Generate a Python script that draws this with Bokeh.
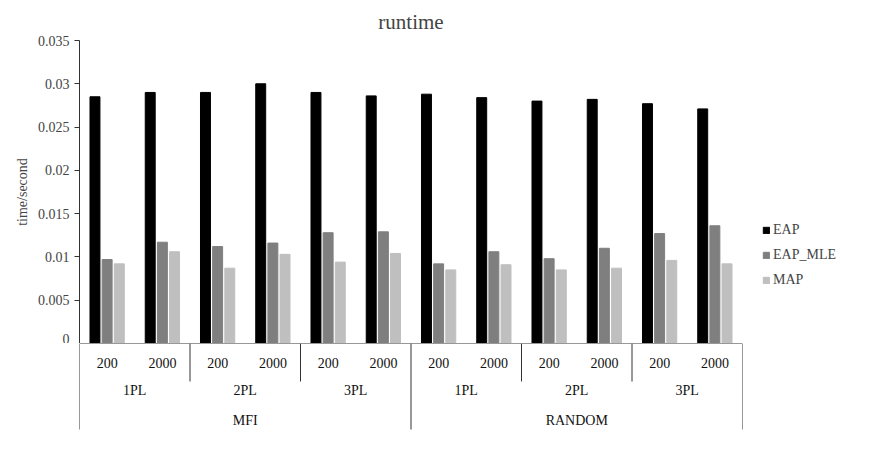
from bokeh.plotting import figure
from bokeh.models import FactorRange, ColumnDataSource, Range1d, Legend, LegendItem, Label
from bokeh.layouts import column
from bokeh.transform import dodge
from bokeh.embed import file_html
from bokeh.resources import INLINE

methods = ["MFI", "RANDOM"]
models = ["1PL", "2PL", "3PL"]
sizes = ["200", "2000"]
eap = [0.0285, 0.0290, 0.0290, 0.0300, 0.0290, 0.0286, 0.0288, 0.0284, 0.0280, 0.0282, 0.0277, 0.0271]
eap_mle = [0.0097, 0.0117, 0.0112, 0.0116, 0.0128, 0.0129, 0.0092, 0.0106, 0.0098, 0.0110, 0.0127, 0.0136]
map_ = [0.0092, 0.0106, 0.0087, 0.0103, 0.0094, 0.0104, 0.0085, 0.0091, 0.0085, 0.0087, 0.0096, 0.0092]

factors = [(a, b, c) for a in methods for b in models for c in sizes]
xr = FactorRange(*factors, factor_padding=0, subgroup_padding=0, group_padding=0, range_padding=0)
src = ColumnDataSource(dict(x=factors, eap=eap, mle=eap_mle, map=map_))
FONT = "Liberation Serif"
LB = 79

p = figure(x_range=xr, y_range=Range1d(0, 0.035), frame_width=663, frame_height=303, output_backend="svg",
           toolbar_location=None, min_border_left=LB, min_border_bottom=0, min_border_top=14)
p.title.text = "runtime"
p.title.align = "center"
p.title.text_font = FONT
p.title.text_font_size = "21px"
p.title.text_font_style = "normal"
p.title.standoff = 14
r1 = p.vbar(x=dodge("x", -0.22, range=xr), top="eap", width=0.18, source=src, color="#000000")
r2 = p.vbar(x=dodge("x", 0.0, range=xr), top="mle", width=0.18, source=src, color="#7f7f7f")
r3 = p.vbar(x=dodge("x", 0.22, range=xr), top="map", width=0.18, source=src, color="#bfbfbf")
p.xaxis.visible = False
p.xgrid.visible = False
p.ygrid.visible = False
p.outline_line_color = None
p.yaxis.ticker = [0, 0.005, 0.01, 0.015, 0.02, 0.025, 0.03, 0.035]
p.yaxis.major_label_overrides = {0: "0", 0.005: "0.005", 0.01: "0.01", 0.015: "0.015", 0.02: "0.02",
                                 0.025: "0.025", 0.03: "0.03", 0.035: "0.035"}
p.yaxis.axis_label = "time/second"
p.yaxis.axis_label_text_font = FONT
p.yaxis.axis_label_text_font_style = "normal"
p.yaxis.axis_label_text_font_size = "14px"
p.yaxis.major_label_text_font = FONT
p.yaxis.major_label_text_font_size = "14px"
p.yaxis.minor_tick_line_color = None
p.yaxis.major_tick_out = 5
p.yaxis.major_tick_in = 0
p.yaxis.axis_line_color = "#333333"
p.yaxis.major_tick_line_color = "#333333"

leg = Legend(items=[LegendItem(label="EAP", renderers=[r1]), LegendItem(label="EAP_MLE", renderers=[r2]),
                    LegendItem(label="MAP", renderers=[r3])],
             location=(20, 55), label_text_font=FONT, label_text_font_size="14px",
             glyph_width=8, glyph_height=8, spacing=9, border_line_color=None, padding=0,
             label_standoff=3, background_fill_alpha=0)
p.add_layout(leg, "right")
p.add_layout(Label(x=687, y=148, x_units="screen", y_units="screen", text="ability_est    \u25BC",
                   text_font="Liberation Sans", text_font_size="13px", background_fill_color="#d9d9d9",
                   padding=4, text_color="#222222"))

n = len(factors)
b = figure(x_range=xr, y_range=Range1d(90, 0), frame_width=663, frame_height=90, output_backend="svg",
           toolbar_location=None, min_border_left=LB, min_border_top=0, min_border_bottom=0)
b.axis.visible = False
b.grid.visible = False
b.outline_line_color = None
b.segment(x0=[0], x1=[n], y0=[0], y1=[0], color="#333333", line_width=1)
x0s, y1s = [], []
for i in range(0, n + 1, 2):
    x0s.append(i)
    y1s.append(86 if i % 6 == 0 else 38)
b.segment(x0=x0s, x1=x0s, y0=[0] * len(x0s), y1=y1s, color="#333333", line_width=1)
cfg = dict(text_font=FONT, text_font_size="14px", text_align="center", text_baseline="middle", text_color="#111111")
b.text(x=factors, y=[19] * n, text=[f[2] for f in factors], **cfg)
mids = [(a, m) for a in methods for m in models]
b.text(x=mids, y=[47] * len(mids), text=[m[1] for m in mids], **cfg)
b.text(x=methods, y=[77] * len(methods), text=methods, **cfg)

lay = column(p, b, spacing=0)
open("out.html", "w").write(file_html(lay, INLINE))
